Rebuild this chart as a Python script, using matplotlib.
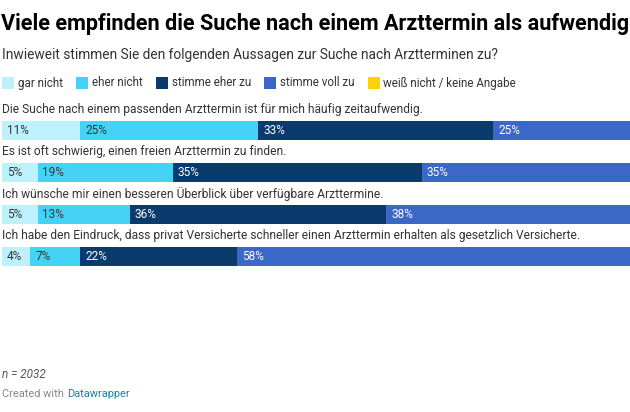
import matplotlib
matplotlib.use("Agg")
import matplotlib.pyplot as plt
from matplotlib.patches import Rectangle

# ---- data ----
statements = [
    "Die Suche nach einem passenden Arzttermin ist für mich häufig zeitaufwendig.",
    "Es ist oft schwierig, einen freien Arzttermin zu finden.",
    "Ich wünsche mir einen besseren Überblick über verfügbare Arzttermine.",
    "Ich habe den Eindruck, dass privat Versicherte schneller einen Arzttermin erhalten als gesetzlich Versicherte.",
]
categories = ["gar nicht", "eher nicht", "stimme eher zu", "stimme voll zu", "weiß nicht / keine Angabe"]
gar_nicht = [11, 5, 5, 4]
eher_nicht = [25, 19, 13, 7]
eher_zu = [33, 35, 36, 22]
voll_zu = [25, 35, 38, 58]
weiss_nicht = [6, 6, 8, 9]
series = [gar_nicht, eher_nicht, eher_zu, voll_zu, weiss_nicht]

colors = ["#bdf1fb", "#44d3f6", "#0b3a6c", "#3b67c6", "#fbd30a"]
text_colors = ["#333333", "#333333", "#ffffff", "#ffffff", "#333333"]

title = "Viele empfinden die Suche nach einem Arzttermin als aufwendig"
subtitle = "Inwieweit stimmen Sie den folgenden Aussagen zur Suche nach Arztterminen zu?"

W, H = 630, 412
DPI = 100
plt.rcParams["font.family"] = ["Roboto", "DejaVu Sans"]
fig = plt.figure(figsize=(W / DPI, H / DPI), dpi=DPI)
fig.patch.set_facecolor("white")

def fx(px):
    return px / W

def fy(py):
    return 1 - py / H

FS_LEG = 8.4
FS_LAB = 8.65
FS_VAL = 8.5

# title / subtitle
fig.text(fx(1), fy(24), title, fontsize=15.6, fontweight="bold", color="#000000", va="center", ha="left")
fig.text(fx(2), fy(55), subtitle, fontsize=9.9, color="#333333", va="center", ha="left")

# legend
renderer = fig.canvas.get_renderer()
x = 2
ly = 83
sq = 12
for c, col in zip(categories, colors):
    fig.patches.append(Rectangle((fx(x), fy(ly + sq / 2)), sq / W, sq / H, transform=fig.transFigure,
                                 facecolor=col, edgecolor="none"))
    t = fig.text(fx(x + sq + 4), fy(ly), c, fontsize=FS_LEG, color="#333333", va="center", ha="left")
    bb = t.get_window_extent(renderer=renderer)
    x = x + sq + 4 + bb.width + 13

# axes: 0..100% spans px 2..714 (chart is cropped on the right)
x0, x1 = 2, 714
top, bottom = 109.5, 277.5
ax = fig.add_axes([fx(x0), fy(bottom), (x1 - x0) / W, (bottom - top) / H])
ax.set_xlim(0, 100)
ax.set_ylim(len(statements) - 0.5, -0.5)
ax.axis("off")
visible_limit = (W - x0 - 20) / (x1 - x0) * 100

bar_h = 19 / 42
n = len(statements)
lefts = [0] * n
for s, col, tc in zip(series, colors, text_colors):
    ax.barh(range(n), s, left=lefts, height=bar_h, color=col, edgecolor="none")
    for i in range(n):
        if lefts[i] < visible_limit:
            ax.annotate(f"{s[i]}%", xy=(lefts[i], i), xytext=(3.4, 0), textcoords="offset points",
                        fontsize=FS_VAL, color=tc, va="center", ha="left")
    lefts = [l + v for l, v in zip(lefts, s)]

for i, st in enumerate(statements):
    ax.text(0, i - 0.49, st, fontsize=FS_LAB, color="#333333", va="center", ha="left")

# footer
fig.text(fx(2), fy(375), "n = 2032", fontsize=8.4, color="#555555", style="italic", va="center", ha="left")
t1 = fig.text(fx(2), fy(394), "Created with ", fontsize=7.9, color="#888888", va="center", ha="left")
bb = t1.get_window_extent(renderer=renderer)
fig.text(fx(2 + bb.width), fy(394), "Datawrapper", fontsize=7.9, color="#1d81a2", va="center", ha="left")

fig.savefig("out.png", dpi=DPI)
